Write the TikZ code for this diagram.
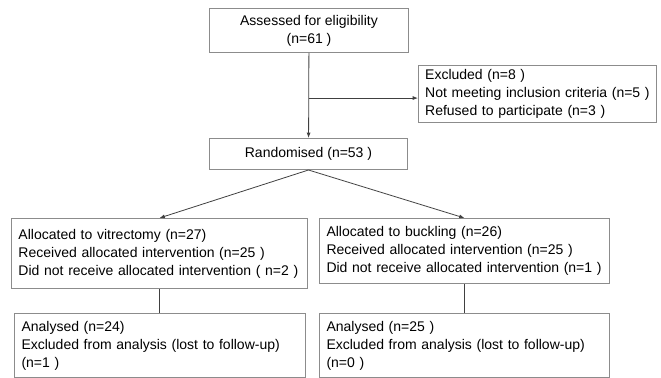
\documentclass[tikz,border=0pt]{standalone}
\usepackage{fontspec}
\setmainfont{Liberation Sans}
\usetikzlibrary{
  arrows.meta,
  calc,
  positioning
}
\definecolor{boxgray}{HTML}{8C8C8C}
\definecolor{linegray}{HTML}{404040}
\tikzset{
  fbox/.style={draw=boxgray, line width=0.75pt, inner xsep=5.25pt, inner ysep=0pt,
    anchor=north west, align=left, font=\fontsize{10.5}{13.5}\selectfont},
  cbox/.style={fbox, align=center},
  link/.style={draw=linegray, line width=0.6pt},
  arr/.style={link, -{Latex[length=4pt,width=3pt]}}
}

\begin{document}
\begin{tikzpicture}[x=0.75pt, y=-0.75pt]
  \useasboundingbox (0,0) rectangle (661,378);
  \node[cbox, minimum width=149.25pt, minimum height=33pt] (elig) at (209,8)
    {Assessed for eligibility\\(n=61 )};
  \node[fbox, inner xsep=5pt, text width=168.5pt, minimum height=42.75pt] (excl) at (418,65)
    {Excluded (n=8 )\\\mbox{Not meeting inclusion criteria (n=5 )}\\Refused to participate (n=3 )};
  \node[cbox, minimum width=148.5pt, minimum height=23.25pt] (rand) at (209,138)
    {Randomised (n=53 )};
  \node[fbox, text width=211.5pt, minimum height=52.5pt] (alloc1) at (11,218)
    {Allocated to vitrectomy (n=27)\\Received allocated intervention (n=25 )\\Did not receive allocated intervention ( n=2 )};
  \node[fbox, text width=207pt, minimum height=48.75pt] (alloc2) at (319,218)
    {Allocated to buckling (n=26)\\Received allocated intervention (n=25 )\\Did not receive allocated intervention (n=1 )};
  \node[fbox, text width=207.75pt, minimum height=48pt] (anal1) at (14,313)
    {Analysed (n=24)\\Excluded from analysis (lost to follow-up)\\(n=1 )};
  \node[fbox, text width=207pt, minimum height=48pt] (anal2) at (319,313)
    {Analysed (n=25 )\\Excluded from analysis (lost to follow-up)\\(n=0 )};

  % enrolment
  \draw[arr] (elig) -- (rand);
  \coordinate (split) at ($(elig.south)!0.53!(rand.north)$);
  \draw[arr] (split) -- (split -| excl.west);

  % allocation
  \draw[arr] (rand.south) -- (alloc1.north);
  \draw[arr] (rand.south) -- (alloc2.north);

  % analysis
  \draw[link] (alloc1.south) -- (alloc1.south |- anal1.north);
  \draw[link] (alloc2.south) -- (alloc2.south |- anal2.north);
\end{tikzpicture}
\end{document}
